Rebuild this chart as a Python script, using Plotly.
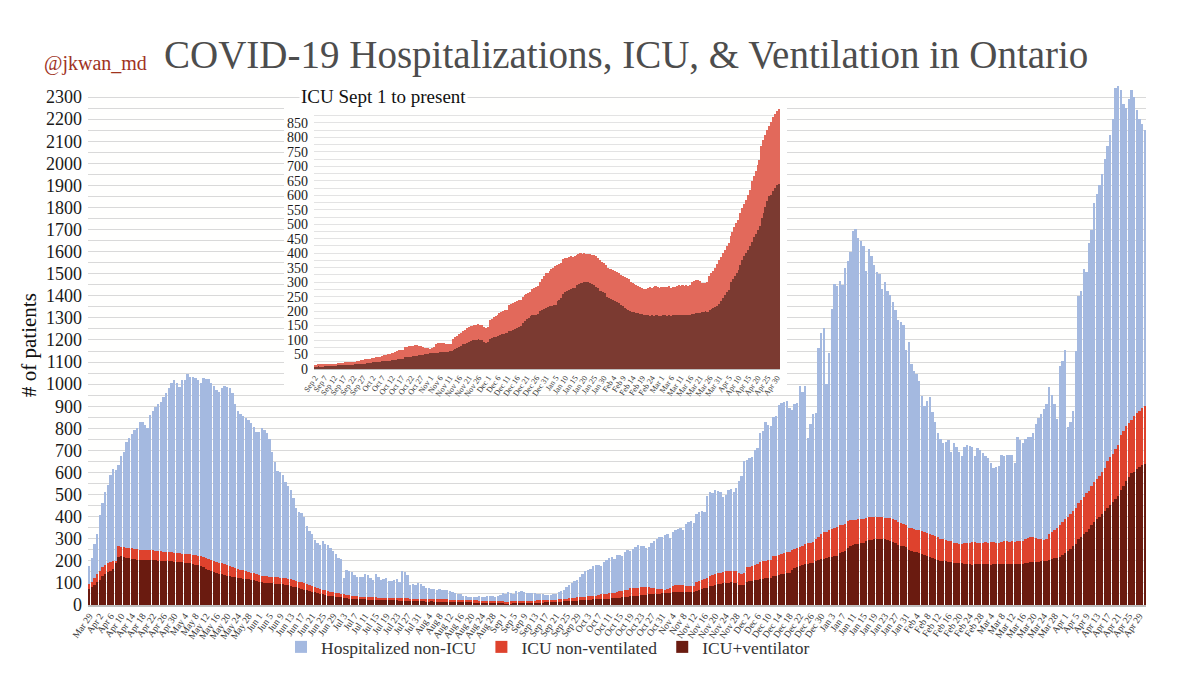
import pandas as pd
import plotly.graph_objects as go

# ---------------- DATA (daily, starting 2020-03-29) ----------------
# Total hospitalized (top of each stacked bar)
hosp_mar20 = [175, 215, 275]
hosp_apr20 = [322, 409, 460, 510, 542, 587, 617, 610, 632, 676, 694, 738, 758, 773, 792, 802, 828, 828, 817, 802,
              862, 877, 896, 909, 921, 941, 958, 981, 1003, 1018]
hosp_may20 = [1006, 988, 1018, 1018, 1045, 1033, 1033, 1030, 1018, 1006, 1030, 1025, 1025, 1006, 991, 973, 966, 981,
              991, 988, 981, 961, 911, 877, 866, 857, 847, 837, 825, 807, 783]
hosp_jun20 = [783, 802, 792, 780, 753, 691, 646, 609, 602, 587, 557, 539, 520, 483, 438, 423, 416, 397, 357, 334,
              322, 293, 282, 272, 290, 278, 272, 257, 245, 230]
hosp_jul20 = [215, 208, 123, 159, 156, 149, 134, 129, 129, 126, 141, 134, 123, 114, 141, 129, 114, 120, 122, 107,
              110, 112, 120, 105, 155, 150, 137, 92, 95, 92, 100]
hosp_aug20 = [95, 85, 77, 75, 74, 72, 70, 74, 70, 68, 66, 62, 60, 55, 52, 48, 42, 40, 38, 35, 38, 36, 40, 38, 36,
              40, 40, 42, 38, 40, 45]
hosp_sep20 = [55, 52, 58, 55, 50, 62, 60, 63, 58, 55, 56, 54, 55, 52, 50, 48, 46, 44, 45, 48, 52, 58, 64, 70, 80,
              90, 100, 110, 115, 128]
hosp_oct20 = [140, 155, 160, 162, 175, 182, 180, 178, 195, 205, 215, 219, 210, 225, 228, 220, 240, 249, 245, 255,
              262, 271, 268, 265, 260, 263, 280, 290, 300, 307, 310]
hosp_nov20 = [315, 320, 305, 330, 340, 345, 350, 340, 365, 375, 380, 370, 410, 420, 427, 420, 495, 510, 505, 520,
              515, 510, 490, 500, 520, 524, 510, 528, 560, 583]
hosp_dec20 = [650, 658, 665, 670, 700, 710, 780, 790, 829, 814, 810, 851, 855, 905, 914, 920, 923, 893, 881, 911,
              915, 993, 963, 993, 754, 821, 866, 870, 1164, 1231, 1253]
hosp_jan21 = [1000, 1141, 1342, 1454, 1446, 1469, 1450, 1528, 1558, 1600, 1692, 1701, 1662, 1647, 1625, 1513, 1610,
              1580, 1540, 1506, 1498, 1432, 1461, 1420, 1402, 1372, 1335, 1290, 1280, 1268, 1156]
hosp_feb21 = [1193, 1089, 1060, 1045, 1015, 948, 903, 925, 940, 874, 829, 777, 750, 732, 740, 747, 695, 732, 715,
              695, 673, 717, 725, 720, 717, 673, 710, 702]
hosp_mar21 = [690, 673, 665, 643, 620, 625, 628, 680, 673, 680, 680, 680, 643, 762, 747, 732, 750, 762, 762, 777,
              821, 845, 866, 888, 911, 985, 950, 911, 844, 1082, 1104]
hosp_apr21 = [1156, 807, 830, 880, 1150, 1400, 1420, 1520, 1510, 1640, 1700, 1820, 1860, 1900, 1950, 2020, 2080,
              2130, 2200, 2340, 2360, 2330, 2270, 2250, 2290, 2330, 2300, 2240, 2200, 2180]
hosp_may21 = [2150]

# Total in ICU
icu_mar20 = [97, 105, 122]
icu_apr20 = [140, 155, 170, 180, 190, 195, 198, 200, 265, 262, 262, 260, 258, 258, 255, 252, 250, 250, 248, 248,
             247, 248, 246, 245, 244, 242, 240, 240, 238, 236]
icu_may20 = [236, 234, 232, 232, 230, 230, 228, 225, 222, 220, 218, 212, 208, 204, 200, 196, 192, 188, 184, 180,
             176, 172, 168, 164, 160, 157, 154, 150, 146, 143, 140]
icu_jun20 = [134, 132, 130, 130, 128, 127, 126, 125, 124, 122, 121, 120, 118, 112, 108, 105, 102, 98, 94, 90,
             86, 82, 78, 74, 70, 66, 63, 60, 57, 55]
icu_jul20 = [53, 52, 48, 45, 44, 42, 40, 39, 38, 37, 36, 35, 35, 34, 34, 33, 33, 32, 32, 33, 32, 31, 31, 30, 30,
             31, 30, 29, 29, 28, 28]
icu_aug20 = [28, 28, 27, 27, 27, 26, 26, 26, 25, 25, 25, 24, 24, 24, 23, 23, 23, 22, 22, 22, 21, 21, 20, 20, 20,
             19, 19, 18, 18, 17, 17]
icu_sep20 = [16, 15, 15, 16, 16, 16, 17, 17, 17, 18, 18, 18, 19, 21, 21, 22, 22, 23, 23, 24, 24, 25, 25, 26, 26,
             30, 31, 33, 34, 35]
icu_oct20 = [36, 38, 39, 40, 42, 43, 44, 48, 50, 52, 53, 55, 55, 60, 62, 64, 66, 67, 75, 76, 78, 79, 80, 82, 82,
             80, 78, 76, 74, 73, 72]
icu_nov20 = [70, 72, 75, 88, 89, 90, 90, 89, 86, 86, 85, 87, 105, 110, 115, 120, 124, 130, 135, 140, 145, 147,
             150, 152, 153, 155, 153, 152, 145, 142]
icu_dec20 = [145, 170, 174, 178, 182, 185, 195, 198, 200, 203, 205, 220, 224, 228, 232, 235, 238, 240, 250, 254,
             258, 262, 265, 275, 279, 283, 286, 300, 310, 320, 330]
icu_jan21 = [332, 338, 344, 350, 355, 360, 363, 366, 380, 383, 385, 387, 389, 388, 389, 395, 397, 400, 398, 400,
             399, 397, 396, 395, 393, 390, 384, 375, 370, 365, 360]
icu_feb21 = [350, 347, 344, 341, 338, 335, 332, 325, 321, 317, 313, 310, 300, 297, 294, 291, 288, 282, 280, 277,
             275, 280, 283, 281, 284, 286, 282, 280]
icu_mar21 = [283, 285, 282, 284, 286, 281, 283, 285, 288, 290, 287, 289, 286, 290, 288, 291, 300, 303, 306, 308,
             305, 297, 298, 296, 299, 320, 330, 340, 350, 362, 375]
icu_apr21 = [388, 400, 412, 425, 437, 460, 475, 490, 505, 516, 540, 555, 570, 585, 600, 620, 650, 668, 685, 705,
             723, 770, 790, 810, 825, 839, 855, 870, 880, 890]
icu_may21 = [900]

# ICU patients on a ventilator
vent_mar20 = [74, 80, 90]
vent_apr20 = [104, 115, 130, 141, 150, 155, 165, 190, 218, 220, 218, 215, 212, 210, 208, 206, 205, 205, 204, 203,
              203, 202, 202, 200, 200, 199, 198, 198, 197, 196]
vent_may20 = [195, 194, 193, 192, 190, 188, 185, 182, 180, 176, 172, 165, 160, 155, 150, 146, 142, 140, 136, 133,
              130, 128, 126, 124, 122, 120, 118, 116, 114, 112, 110]
vent_jun20 = [104, 102, 100, 100, 99, 98, 97, 96, 95, 93, 92, 90, 88, 82, 80, 76, 73, 70, 68, 65, 60, 57, 54, 51,
              48, 45, 43, 41, 39, 37]
vent_jul20 = [35, 34, 31, 30, 29, 28, 27, 27, 26, 25, 25, 24, 24, 23, 23, 23, 22, 22, 22, 22, 21, 21, 21, 20, 20,
              20, 20, 19, 19, 19, 19]
vent_aug20 = [18, 18, 18, 18, 17, 17, 17, 17, 16, 16, 16, 16, 15, 15, 15, 15, 14, 14, 14, 14, 13, 13, 13, 12, 12,
              12, 11, 11, 11, 10, 10]
vent_sep20 = [10, 9, 9, 9, 10, 10, 10, 10, 10, 11, 11, 11, 11, 13, 13, 13, 14, 14, 14, 15, 15, 15, 16, 16, 16,
              18, 18, 19, 20, 21]
vent_oct20 = [22, 23, 23, 24, 25, 25, 26, 27, 28, 28, 29, 30, 30, 32, 33, 34, 35, 35, 40, 41, 42, 43, 44, 45, 45,
              48, 49, 50, 51, 52, 53]
vent_nov20 = [54, 54, 55, 57, 57, 58, 58, 58, 60, 60, 61, 61, 65, 68, 72, 75, 78, 85, 88, 91, 94, 96, 100, 101,
              101, 102, 100, 99, 92, 90]
vent_dec20 = [92, 105, 107, 109, 111, 113, 118, 120, 121, 123, 124, 130, 133, 136, 139, 142, 145, 147, 160, 166,
              172, 177, 182, 185, 187, 188, 190, 200, 203, 207, 210]
vent_jan21 = [215, 217, 219, 220, 222, 235, 240, 245, 260, 265, 270, 274, 278, 280, 280, 290, 293, 296, 298, 300,
              300, 299, 297, 295, 290, 285, 280, 270, 268, 265, 263]
vent_feb21 = [250, 246, 242, 238, 234, 231, 228, 220, 216, 212, 208, 205, 200, 198, 197, 195, 194, 190, 189, 188,
              188, 185, 184, 186, 183, 187, 185, 184]
vent_mar21 = [184, 186, 185, 183, 187, 184, 185, 186, 187, 186, 185, 186, 187, 186, 185, 186, 190, 191, 193, 194,
              194, 196, 198, 199, 198, 205, 208, 211, 214, 217, 225]
vent_apr21 = [235, 245, 255, 265, 274, 300, 310, 320, 332, 343, 360, 375, 390, 400, 412, 424, 440, 455, 465, 480,
              493, 520, 540, 560, 580, 597, 602, 615, 625, 635]
vent_may21 = [640]

START_DATE = "2020-03-29"
INSET_START = "2020-09-02"

hosp_total = (hosp_mar20 + hosp_apr20 + hosp_may20 + hosp_jun20 + hosp_jul20 + hosp_aug20 + hosp_sep20 +
              hosp_oct20 + hosp_nov20 + hosp_dec20 + hosp_jan21 + hosp_feb21 + hosp_mar21 + hosp_apr21 + hosp_may21)
icu_total = (icu_mar20 + icu_apr20 + icu_may20 + icu_jun20 + icu_jul20 + icu_aug20 + icu_sep20 + icu_oct20 +
             icu_nov20 + icu_dec20 + icu_jan21 + icu_feb21 + icu_mar21 + icu_apr21 + icu_may21)
icu_vent = (vent_mar20 + vent_apr20 + vent_may20 + vent_jun20 + vent_jul20 + vent_aug20 + vent_sep20 + vent_oct20 +
            vent_nov20 + vent_dec20 + vent_jan21 + vent_feb21 + vent_mar21 + vent_apr21 + vent_may21)

n = min(len(hosp_total), len(icu_total), len(icu_vent))
dates = pd.date_range(START_DATE, periods=n, freq="D")
non_icu = [h - i for h, i in zip(hosp_total[:n], icu_total[:n])]
icu_nonvent = [i - v for i, v in zip(icu_total[:n], icu_vent[:n])]
vent = icu_vent[:n]

s = list(dates).index(pd.Timestamp(INSET_START))
inset_dates = dates[s:]


def lbl(d):
    return f"{d:%b} {d.day}"


main_ticks = list(dates[::4])
inset_ticks = list(inset_dates[::5])

# ---------------- STYLE ----------------
BLUE = "#a4b9e0"
RED = "#de422d"
DARK = "#6a1b10"
INSET_RED = "#e2695b"
INSET_DARK = "#7b3a31"
FONT = "Liberation Serif"
GRID = "#d9d9d9"

W, H = 1200, 690
L, R, T, B = 80, 62, 78, 93


def px_x(p):
    return (p - L) / (W - L - R)


def px_y(p):
    return (H - B - p) / (H - T - B)


half = pd.Timedelta(hours=12)

fig = go.Figure()
fig.add_trace(go.Bar(x=dates, y=vent, name="ICU+ventilator", marker=dict(color=DARK, line_width=0)))
fig.add_trace(go.Bar(x=dates, y=icu_nonvent, name="ICU non-ventilated", marker=dict(color=RED, line_width=0)))
fig.add_trace(go.Bar(x=dates, y=non_icu, name="Hospitalized non-ICU", marker=dict(color=BLUE, line_width=0)))
# empty white panel behind the inset
fig.add_trace(go.Scatter(x=[None], y=[None], xaxis="x2", yaxis="y2", showlegend=False, hoverinfo="skip"))
# inset
fig.add_trace(go.Bar(x=inset_dates, y=vent[s:], xaxis="x3", yaxis="y3", showlegend=False,
                     marker=dict(color=INSET_DARK, line_width=0)))
fig.add_trace(go.Bar(x=inset_dates, y=icu_nonvent[s:], xaxis="x3", yaxis="y3", showlegend=False,
                     marker=dict(color=INSET_RED, line_width=0)))

main_yvals = list(range(0, 2351, 50))
inset_yvals = list(range(0, 901, 25))

fig.update_layout(
    width=W, height=H,
    margin=dict(l=L, r=R, t=T, b=B),
    paper_bgcolor="#ffffff", plot_bgcolor="#fffffe",
    barmode="stack", bargap=0.12,
    font=dict(family=FONT, color="#1a1a1a"),
    showlegend=True,
    legend=dict(orientation="h", traceorder="reversed", x=px_x(540), xanchor="center",
                y=px_y(639), yanchor="middle", itemwidth=30, bgcolor="rgba(0,0,0,0)",
                font=dict(size=17.5, color="#333333", family=FONT)),
    xaxis=dict(domain=[0, 1], anchor="y", type="date",
               range=[dates[0] - half, dates[-1] + half],
               tickvals=main_ticks, ticktext=[lbl(d) for d in main_ticks],
               tickangle=-55, tickfont=dict(size=9.5, color="#333333", family=FONT),
               showgrid=False, showline=True, linecolor="#bfbfbf", linewidth=1.5, ticks=""),
    yaxis=dict(domain=[0, 1], anchor="x", range=[0, 2350],
               tickvals=main_yvals, ticktext=[str(v) if v % 100 == 0 else "" for v in main_yvals],
               tickfont=dict(size=18, color="#1a1a1a", family=FONT), ticklabelstandoff=5,
               showgrid=True, gridcolor=GRID, gridwidth=1.3, zeroline=False, ticks=""),
    xaxis2=dict(domain=[px_x(276), px_x(779)], anchor="y2", visible=False, range=[0, 1]),
    yaxis2=dict(domain=[px_y(387), px_y(96)], anchor="x2", visible=False, range=[0, 1]),
    xaxis3=dict(domain=[px_x(306), px_x(772)], anchor="y3", type="date",
                range=[inset_dates[0] - half, inset_dates[-1] + half],
                tickvals=inset_ticks, ticktext=[lbl(d) for d in inset_ticks],
                tickangle=-55, tickfont=dict(size=8, color="#333333", family=FONT),
                showgrid=False, showline=True, linecolor="#bfbfbf", ticks=""),
    yaxis3=dict(domain=[px_y(361), px_y(100.5)], anchor="x3", range=[0, 900],
                tickvals=inset_yvals,
                ticktext=[str(v) if (v % 50 == 0 and v <= 850) else "" for v in inset_yvals],
                tickfont=dict(size=14, color="#1a1a1a", family=FONT), ticklabelstandoff=5,
                showgrid=True, gridcolor="#e3e3e3", gridwidth=1, zeroline=False, ticks=""),
    annotations=[
        dict(text="COVID-19 Hospitalizations, ICU, & Ventilation in Ontario", xref="paper", yref="paper",
             x=px_x(618), y=px_y(47), xanchor="center", yanchor="middle", showarrow=False,
             font=dict(size=39, color="#4d4d4d", family=FONT)),
        dict(text="@jkwan_md", xref="paper", yref="paper", x=px_x(34), y=px_y(55), xanchor="left",
             yanchor="middle", showarrow=False, font=dict(size=20, color="#a0331e", family=FONT)),
        dict(text="# of patients", xref="paper", yref="paper", x=px_x(21), y=px_y(337), xanchor="center",
             yanchor="middle", textangle=-90, showarrow=False, font=dict(size=21, color="#111111", family=FONT)),
        dict(text="ICU Sept 1 to present", xref="paper", yref="paper", x=px_x(291), y=px_y(89),
             xanchor="left", yanchor="middle", showarrow=False, bgcolor="#ffffff",
             font=dict(size=19, color="#111111", family=FONT)),
    ],
)

fig.write_html("out.html")
